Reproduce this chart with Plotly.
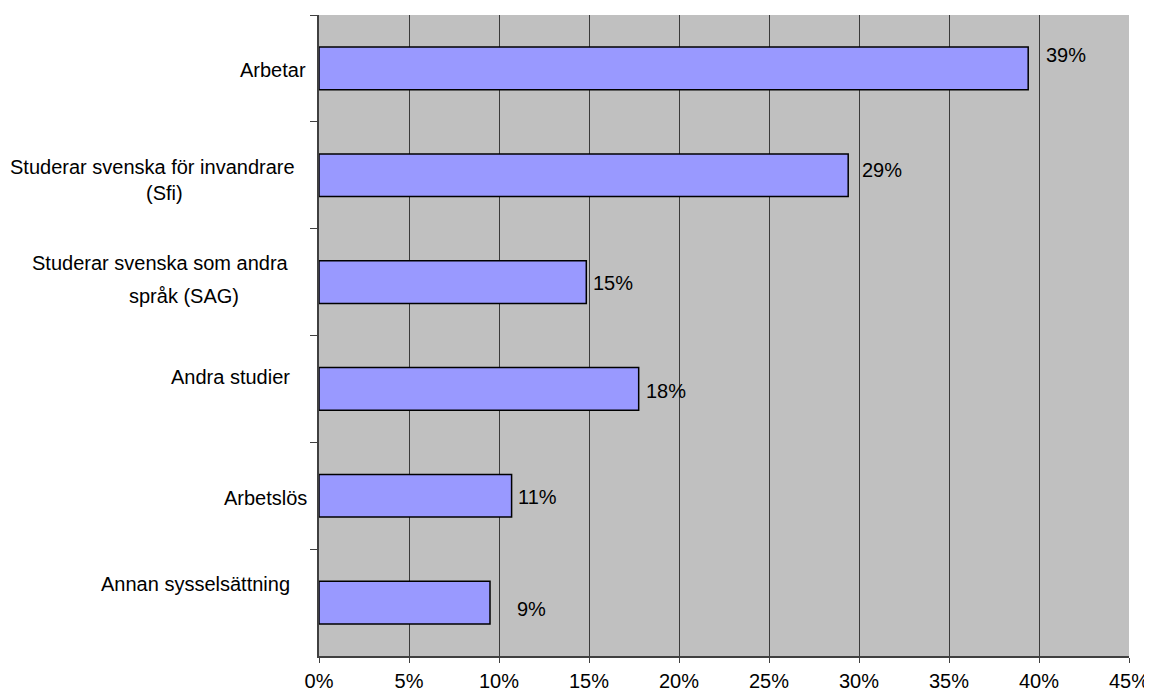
import plotly.graph_objects as go

# ---- data ----
categories = [
    "Arbetar",
    "Studerar svenska för invandrare (Sfi)",
    "Studerar svenska som andra språk (SAG)",
    "Andra studier",
    "Arbetslös",
    "Annan sysselsättning",
]
values = [39.4, 29.4, 14.85, 17.76, 10.7, 9.5]
value_labels = ["39%", "29%", "15%", "18%", "11%", "9%"]
category_label_lines = [
    ["Arbetar"],
    ["Studerar svenska för invandrare", "(Sfi)"],
    ["Studerar svenska som andra", "språk (SAG)"],
    ["Andra studier"],
    ["Arbetslös"],
    ["Annan sysselsättning"],
]
x_ticks = [0, 5, 10, 15, 20, 25, 30, 35, 40, 45]

# ---- layout-only placement (pixel offsets) ----
# per category line: (xshift from axis, yshift from category centre)
cat_line_offsets = [
    [(-11, -2)],
    [(-22, 8), (-134, -17.5)],
    [(-28, 19), (-78, -14)],
    [(-27, 11.5)],
    [(-10, -2)],
    [(-27, 19)],
]
# per value label: (xshift from bar end, yshift from category centre)
val_offsets = [(16, 13.5), (12, 5), (5, -1), (5, -2), (4, -1.5), (25, -6)]

FONT = "Liberation Sans, Arial, sans-serif"
FS = 20

fig = go.Figure()
fig.add_trace(go.Bar(
    x=values,
    y=categories,
    orientation="h",
    width=0.4,
    marker=dict(color="#9999FF", line=dict(color="#000000", width=1.5)),
    hoverinfo="x+y",
))

annotations = []
for cat, lines, offs in zip(categories, category_label_lines, cat_line_offsets):
    for line, (dx, dy) in zip(lines, offs):
        annotations.append(dict(
            x=0, xref="paper", y=cat, yref="y",
            text=line, showarrow=False,
            xanchor="right", yanchor="middle",
            xshift=dx, yshift=dy,
            font=dict(family=FONT, size=FS, color="#000000"),
        ))
for cat, v, lab, (dx, dy) in zip(categories, values, value_labels, val_offsets):
    annotations.append(dict(
        x=v, xref="x", y=cat, yref="y",
        text=lab, showarrow=False,
        xanchor="left", yanchor="middle",
        xshift=dx, yshift=dy,
        font=dict(family=FONT, size=FS, color="#000000"),
    ))

fig.update_layout(
    template="none",
    width=1144, height=685,
    margin=dict(l=311, r=23, t=7, b=37, pad=0, autoexpand=False),
    paper_bgcolor="#FFFFFF",
    plot_bgcolor="#C0C0C0",
    showlegend=False,
    font=dict(family=FONT, size=FS, color="#000000"),
    annotations=annotations,
    xaxis=dict(
        range=[0, 45],
        tickvals=x_ticks,
        ticktext=[f"{t}%" for t in x_ticks],
        showgrid=True, gridcolor="#3A3A3A", gridwidth=1,
        zeroline=False,
        showline=True, linecolor="#404040", linewidth=2,
        ticks="outside", ticklen=5, tickcolor="#404040", tickwidth=1,
        ticklabelstandoff=1,
        tickfont=dict(family=FONT, size=FS, color="#000000"),
        automargin=False,
        fixedrange=True,
    ),
    yaxis=dict(
        type="category",
        categoryorder="array", categoryarray=categories,
        range=[5.5, -0.5],
        showticklabels=False,
        showgrid=False, zeroline=False,
        showline=True, linecolor="#404040", linewidth=2,
        ticks="outside", ticklen=7, tickcolor="#404040", tickwidth=1,
        tickson="boundaries",
        automargin=False,
        fixedrange=True,
    ),
)

fig.write_html("out.html")
